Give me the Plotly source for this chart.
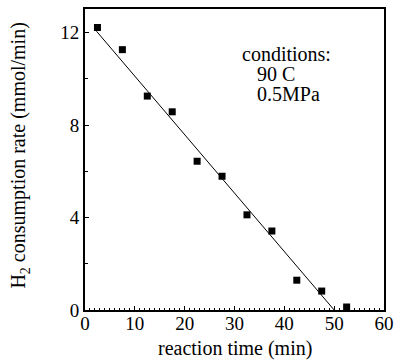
import plotly.graph_objects as go

# data
time_min = [2.5, 7.5, 12.5, 17.5, 22.5, 27.5, 32.5, 37.5, 42.5, 47.5, 52.5]
h2_rate = [12.23, 11.27, 9.26, 8.58, 6.44, 5.79, 4.12, 3.42, 1.29, 0.82, 0.13]
fit_x = [2.3, 50.0]
fit_y = [12.07, 0.0]
x_ticks = [0, 10, 20, 30, 40, 50, 60]
y_ticks = [0, 4, 8, 12]
notes = ["conditions:", "90 C", "0.5MPa"]

FONT = "Liberation Serif, Times New Roman, serif"

fig = go.Figure()
fig.add_trace(go.Scatter(x=fit_x, y=fit_y, mode="lines",
                         line=dict(color="black", width=1), showlegend=False))
fig.add_trace(go.Scatter(x=time_min, y=h2_rate, mode="markers",
                         marker=dict(symbol="square", size=7, color="black"),
                         showlegend=False))

fig.update_layout(
    width=401, height=362,
    margin=dict(l=85, r=10, t=7, b=52),
    plot_bgcolor="white", paper_bgcolor="white",
    font=dict(family=FONT, size=19, color="black"),
    xaxis=dict(range=[0, 60], tickvals=x_ticks, ticks="inside", ticklen=4,
               tickcolor="black", showgrid=False, zeroline=False,
               showline=True, linecolor="black", linewidth=2, mirror=True,
               minor=dict(dtick=1, ticks="inside", ticklen=2, tickcolor="black"),
               tickfont=dict(size=19), ticklabelstandoff=-5),
    yaxis=dict(range=[0, 13.03], tickvals=y_ticks, ticks="inside", ticklen=4,
               tickcolor="black", showgrid=False, zeroline=False,
               showline=True, linecolor="black", linewidth=2, mirror=True,
               minor=dict(tickvals=[2, 6, 10], ticks="inside", ticklen=3, tickcolor="black"),
               tickfont=dict(size=19)),
)

fig.add_annotation(text="reaction time (min)", xref="paper", yref="paper",
                   x=0.5, y=0, yshift=-38, showarrow=False,
                   font=dict(size=20), xanchor="center", yanchor="middle")
fig.add_annotation(text="H<sub>2</sub> consumption rate (mmol/min)", xref="paper", yref="paper",
                   x=0, xshift=-65, y=0.513, textangle=-90, showarrow=False,
                   font=dict(size=20), xanchor="center", yanchor="middle")
fig.add_annotation(text=notes[0], xref="x", yref="y", x=31.1, y=11.08,
                   showarrow=False, xanchor="left", yanchor="middle", font=dict(size=20))
fig.add_annotation(text=notes[1], xref="x", yref="y", x=34.1, y=10.2,
                   showarrow=False, xanchor="left", yanchor="middle", font=dict(size=20))
fig.add_annotation(text=notes[2], xref="x", yref="y", x=34.1, y=9.34,
                   showarrow=False, xanchor="left", yanchor="middle", font=dict(size=20))

# remove the page's default body margin so the figure fills the 401x362 window
fig.write_html("out.html", config={"displayModeBar": False},
               post_script="document.body.style.margin='0';document.body.style.overflow='hidden';")
